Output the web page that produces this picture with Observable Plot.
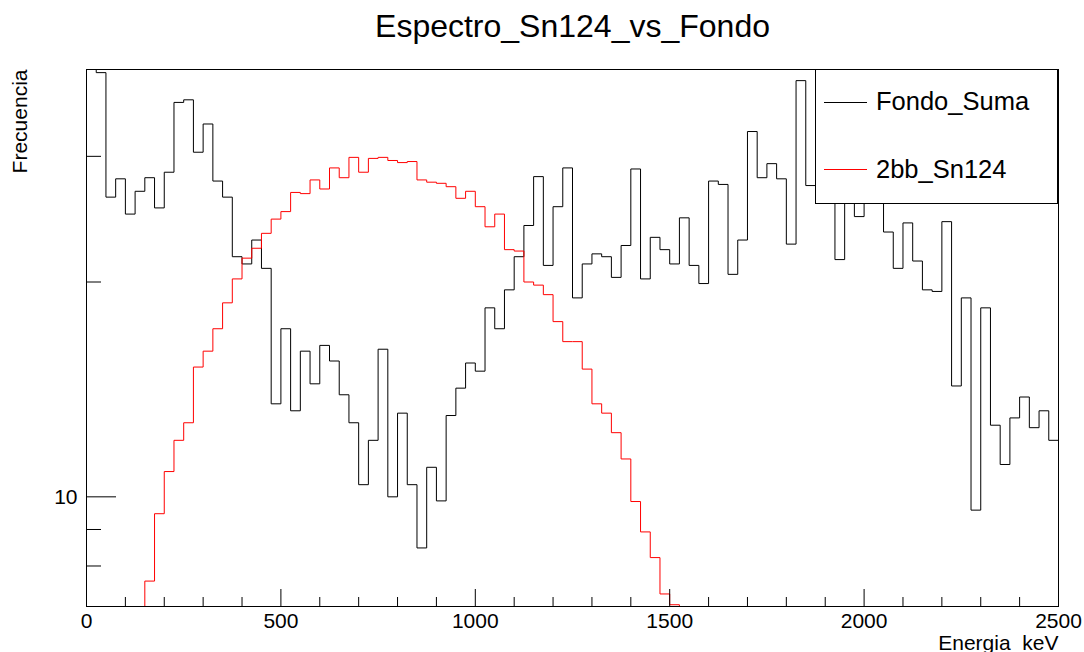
<!DOCTYPE html>
<html>
<head>
<meta charset="utf-8">
<script src="https://cdn.jsdelivr.net/npm/d3@7"></script>
<script src="https://cdn.jsdelivr.net/npm/@observablehq/plot@0.6"></script>
<style>
  body { margin: 0; background: #fff; }
  #wrap { position: relative; width: 1084px; height: 652px; overflow: hidden; }
</style>
</head>
<body>
<div id="wrap"></div>
<script>
// ---- data ----
const title = "Espectro_Sn124_vs_Fondo";
const xLabel = "Energia_keV";
const yLabel = "Frecuencia";
const binWidth = 25; // keV, 100 bins from 0 to 2500
const seriesNames = ["Fondo_Suma", "2bb_Sn124"];
const seriesColors = ["#000000", "#ff0000"];

const fondoSuma = [
  39.7, 39.3, 26.3, 27.9, 24.9, 26.8, 28.0, 25.4, 28.5, 35.7,
  36.0, 30.4, 33.3, 27.7, 26.3, 21.7, 21.2, 22.9, 20.9, 13.5,
  17.2, 13.2, 16.0, 14.4, 16.3, 15.5, 13.9, 12.7, 10.4, 12.0,
  16.1, 10.0, 13.1, 10.4, 8.48, 11.0, 9.87, 13.0, 14.2, 15.4,
  15.0, 18.4, 17.2, 19.5, 21.7, 24.0, 28.1, 21.1, 25.5, 28.9,
  19.0, 21.2, 21.9, 21.7, 20.3, 22.5, 28.8, 20.2, 23.1, 22.2,
  21.2, 24.6, 21.1, 19.9, 27.7, 27.4, 20.5, 22.9, 32.5, 28.0,
  29.3, 27.9, 22.6, 38.3, 27.3, 30.0, 28.0, 21.5, 29.0, 24.7,
  31.0, 28.0, 23.5, 20.9, 24.2, 21.4, 19.5, 19.4, 24.3, 14.3,
  19.0, 9.58, 18.4, 12.6, 11.1, 12.9, 13.8, 12.5, 13.2, 12.0
];

const sn124 = [
  0, 0, 0, 0, 0, 0, 7.62, 9.47, 10.85, 12.0,
  12.7, 15.2, 16.0, 17.2, 18.7, 20.2, 21.6, 22.3, 23.4, 24.5,
  25.1, 26.7, 26.6, 27.8, 27.0, 28.9, 28.0, 29.9, 28.5, 29.8,
  29.9, 29.6, 29.4, 29.5, 27.8, 27.6, 27.5, 27.2, 26.2, 26.8,
  25.5, 23.9, 24.9, 22.2, 22.1, 20.0, 19.8, 19.2, 17.6, 16.5,
  16.5, 15.1, 13.5, 13.1, 12.3, 11.3, 9.85, 8.93, 8.22, 7.31,
  7.06, 0, 0, 0, 0, 0, 0, 0, 0, 0,
  0, 0, 0, 0, 0, 0, 0, 0, 0, 0,
  0, 0, 0, 0, 0, 0, 0, 0, 0, 0,
  0, 0, 0, 0, 0, 0, 0, 0, 0, 0
];

const xMajorTicks = [0, 500, 1000, 1500, 2000, 2500];
const xMinorTicks = [100, 200, 300, 400, 600, 700, 800, 900, 1100, 1200, 1300, 1400,
                     1600, 1700, 1800, 1900, 2100, 2200, 2300, 2400];
const yMajorTicks = [10];
const yMinorTicks = [8, 9, 20, 30];
const yLabelTicks = [10];

// ---- build histogram outline (step) points ----
function steps(values) {
  const floor = 1; // empty bins drawn below the axis (clipped)
  return values.flatMap((v, i) => [
    {x: i * binWidth, y: v > 0 ? v : floor},
    {x: (i + 1) * binWidth, y: v > 0 ? v : floor}
  ]);
}

const W = 1084, H = 652, mL = 86, mR = 26, mT = 69, mB = 46;
const frameW = W - mL - mR, frameH = H - mT - mB;
const font = '"Liberation Sans", Arial, Helvetica, sans-serif';

const plot = Plot.plot({
  width: W, height: H,
  marginLeft: mL, marginRight: mR, marginTop: mT, marginBottom: mB,
  x: {domain: [0, 2500], axis: null},
  y: {type: "log", domain: [7.02, 39.7], axis: null},
  style: {fontFamily: font, background: "#fff", color: "#000"},
  marks: [
    Plot.line(steps(fondoSuma), {x: "x", y: "y", stroke: seriesColors[0], strokeWidth: 1, clip: true}),
    Plot.line(steps(sn124), {x: "x", y: "y", stroke: seriesColors[1], strokeWidth: 1, clip: true}),
    Plot.frame({stroke: "#000", strokeWidth: 1}),
    Plot.ruleX(xMajorTicks, {x: d => d, insetTop: frameH - 17, stroke: "#000"}),
    Plot.ruleX(xMinorTicks, {x: d => d, insetTop: frameH - 9, stroke: "#000"}),
    Plot.ruleY(yMajorTicks, {y: d => d, insetRight: frameW - 30, stroke: "#000"}),
    Plot.ruleY(yMinorTicks, {y: d => d, insetRight: frameW - 15, stroke: "#000"}),
    Plot.text(xMajorTicks, {x: d => d, text: d => String(d), frameAnchor: "bottom", lineAnchor: "top", dy: 7, fontSize: 21, fill: "#000"}),
    Plot.text(yLabelTicks, {y: d => d, text: d => String(d), frameAnchor: "left", textAnchor: "end", dx: -9, fontSize: 21, fill: "#000"}),
    Plot.text([xLabel], {text: d => d, frameAnchor: "bottom-right", textAnchor: "end", lineAnchor: "bottom", dy: 43, fontSize: 21, fill: "#000"}),
    Plot.text([yLabel], {text: d => d, frameAnchor: "top-left", rotate: -90, textAnchor: "end", lineAnchor: "bottom", dx: -60, fontSize: 21, fill: "#000"}),
    Plot.text([title], {text: d => d, frameAnchor: "top", lineAnchor: "bottom", dy: -33, fontSize: 32, fill: "#000"})
  ]
});

// ---- legend box (ROOT TLegend style) ----
const svg = d3.select(plot);
const lg = svg.append("g").attr("font-family", font).attr("text-anchor", "start");
lg.append("rect")
  .attr("x", 815.5).attr("y", 69.5).attr("width", 242).attr("height", 134)
  .attr("fill", "#fff").attr("stroke", "#000").attr("stroke-width", 1);
const rows = [102.5, 169.5];
const baselines = [110, 178];
seriesNames.forEach((name, i) => {
  lg.append("line")
    .attr("x1", 824).attr("x2", 867).attr("y1", rows[i]).attr("y2", rows[i])
    .attr("stroke", seriesColors[i]).attr("stroke-width", 1);
  lg.append("text")
    .attr("x", 876).attr("y", baselines[i])
    .attr("text-anchor", "start")
    .attr("font-size", 25.5).attr("fill", "#000")
    .text(name);
});

document.getElementById("wrap").appendChild(plot);
</script>
</body>
</html>
